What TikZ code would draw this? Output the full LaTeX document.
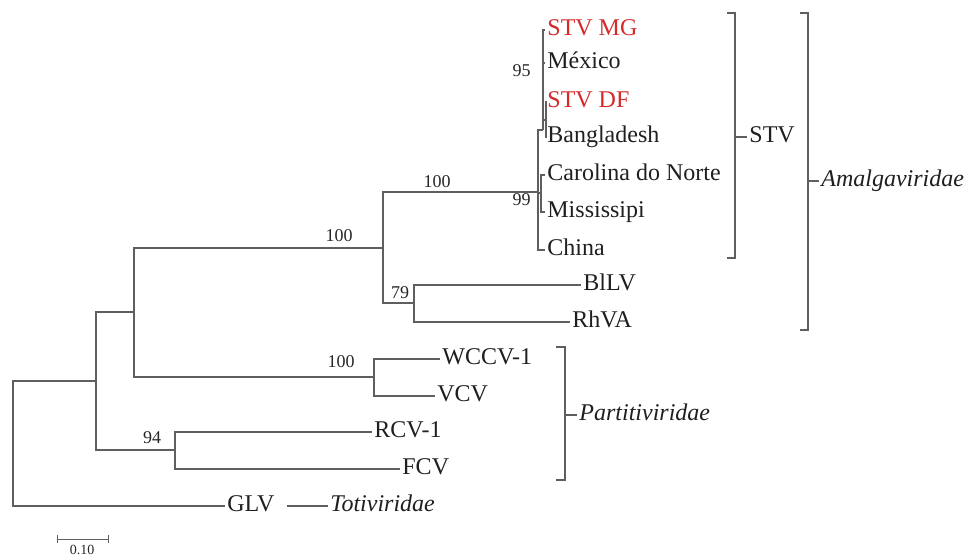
\documentclass[tikz,border=0pt]{standalone}
\usepackage{fontspec}
\setmainfont{Liberation Serif}
\usetikzlibrary{positioning}
\definecolor{stvred}{RGB}{212,42,42}
\definecolor{branch}{RGB}{95,95,95}
\begin{document}
\begin{tikzpicture}[x=0.5pt,y=-0.5pt,br/.style={draw=branch,line width=0.7pt},leaf/.style={anchor=west,inner sep=1pt,text height=0.7em,text depth=0.2em,font=\fontsize{12}{12}\selectfont,text=black!88},boot/.style={inner sep=0pt,font=\fontsize{9}{9}\selectfont,text=black!85},fam/.style={leaf,font=\fontsize{12}{12}\selectfont\itshape}]
\useasboundingbox (0,0) rectangle (974,557);
\coordinate (root) at (13,443);
\coordinate (nA) at (96,381);
\coordinate (nB) at (134,312);
\coordinate (nC) at (383,248);
\coordinate (nD) at (538,192);
\coordinate (n95) at (543,130);
\coordinate (nDF) at (546,120);
\coordinate (n99) at (541,193);
\coordinate (nE) at (414,303);
\coordinate (nF) at (374,377);
\coordinate (nG) at (175,450);
\node[leaf,text=stvred] (mg) at (545,30) {STV MG};
\node[leaf] (mex) at (545,63) {México};
\node[leaf,text=stvred] (df) at (545,102) {STV DF};
\node[leaf] (ban) at (545,137) {Bangladesh};
\node[leaf] (car) at (545,175) {Carolina do Norte};
\node[leaf] (mis) at (545,212) {Mississipi};
\node[leaf] (chi) at (545,250) {China};
\node[leaf] (bllv) at (581,285) {BlLV};
\node[leaf] (rhva) at (570,322) {RhVA};
\node[leaf] (wccv) at (440,359) {WCCV-1};
\node[leaf] (vcv) at (435,396) {VCV};
\node[leaf] (rcv) at (372,432) {RCV-1};
\node[leaf] (fcv) at (400,469) {FCV};
\node[leaf] (glv) at (225,506) {GLV};
\node[fam] (toti) at (328,506) {Totiviridae};
\node[leaf] (stv) at (747,137) {STV};
\node[fam] (amal) at (819,181) {Amalgaviridae};
\node[fam] (parti) at (577,415) {Partitiviridae};
\node[boot,anchor=east] (b95) at (531,71) {95};
\node[boot,anchor=east] (b99) at (531,200) {99};
\node[boot] (bCD) at (437,182) {100};
\node[boot] (bBC) at (339,236) {100};
\node[boot] (bE) at (400,293) {79};
\node[boot] (bF) at (341,362) {100};
\node[boot] (bG) at (152,438) {94};
\draw[br] (root) |- (nA) (root) |- (glv.west);
\draw[br] (nA) |- (nB) (nA) |- (nG);
\draw[br] (nB) |- (nC) (nB) |- (nF);
\draw[br] (nC) |- (nD) (nC) |- (nE);
\draw[br] (nD) |- (n95) (nD) |- (n99) (nD) |- (chi.west);
\draw[br] (n95) |- (mg.west) (n95) |- (mex.west) (n95) |- (nDF);
\draw[br] (nDF) |- (df.west) (nDF) |- (ban.west);
\draw[br] (n99) |- (car.west) (n99) |- (mis.west);
\draw[br] (nE) |- (bllv.west) (nE) |- (rhva.west);
\draw[br] (nF) |- (wccv.west) (nF) |- (vcv.west);
\draw[br] (nG) |- (rcv.west) (nG) |- (fcv.west);
\draw[br] ([xshift=5pt]glv.east) -- (toti.west);
\draw[br] (727,13) -- (735,13) -- (735,258) -- (727,258);
\draw[br] (735,137) -- (stv.west);
\draw[br] (800,13) -- (808,13) -- (808,330) -- (800,330);
\draw[br] (808,181) -- (amal.west);
\draw[br] (556,347) -- (565,347) -- (565,480) -- (556,480);
\draw[br] (565,415) -- (parti.west);
\coordinate (sL) at (57,539);
\coordinate (sR) at (108,539);
\draw[br,line width=0.5pt] (sL) -- (sR) ([yshift=2pt]sL) -- ([yshift=-2pt]sL) ([yshift=2pt]sR) -- ([yshift=-2pt]sR);
\node[boot,font=\fontsize{7}{7}\selectfont] (scale) at (82,550) {0.10};
\end{tikzpicture}
\end{document}
